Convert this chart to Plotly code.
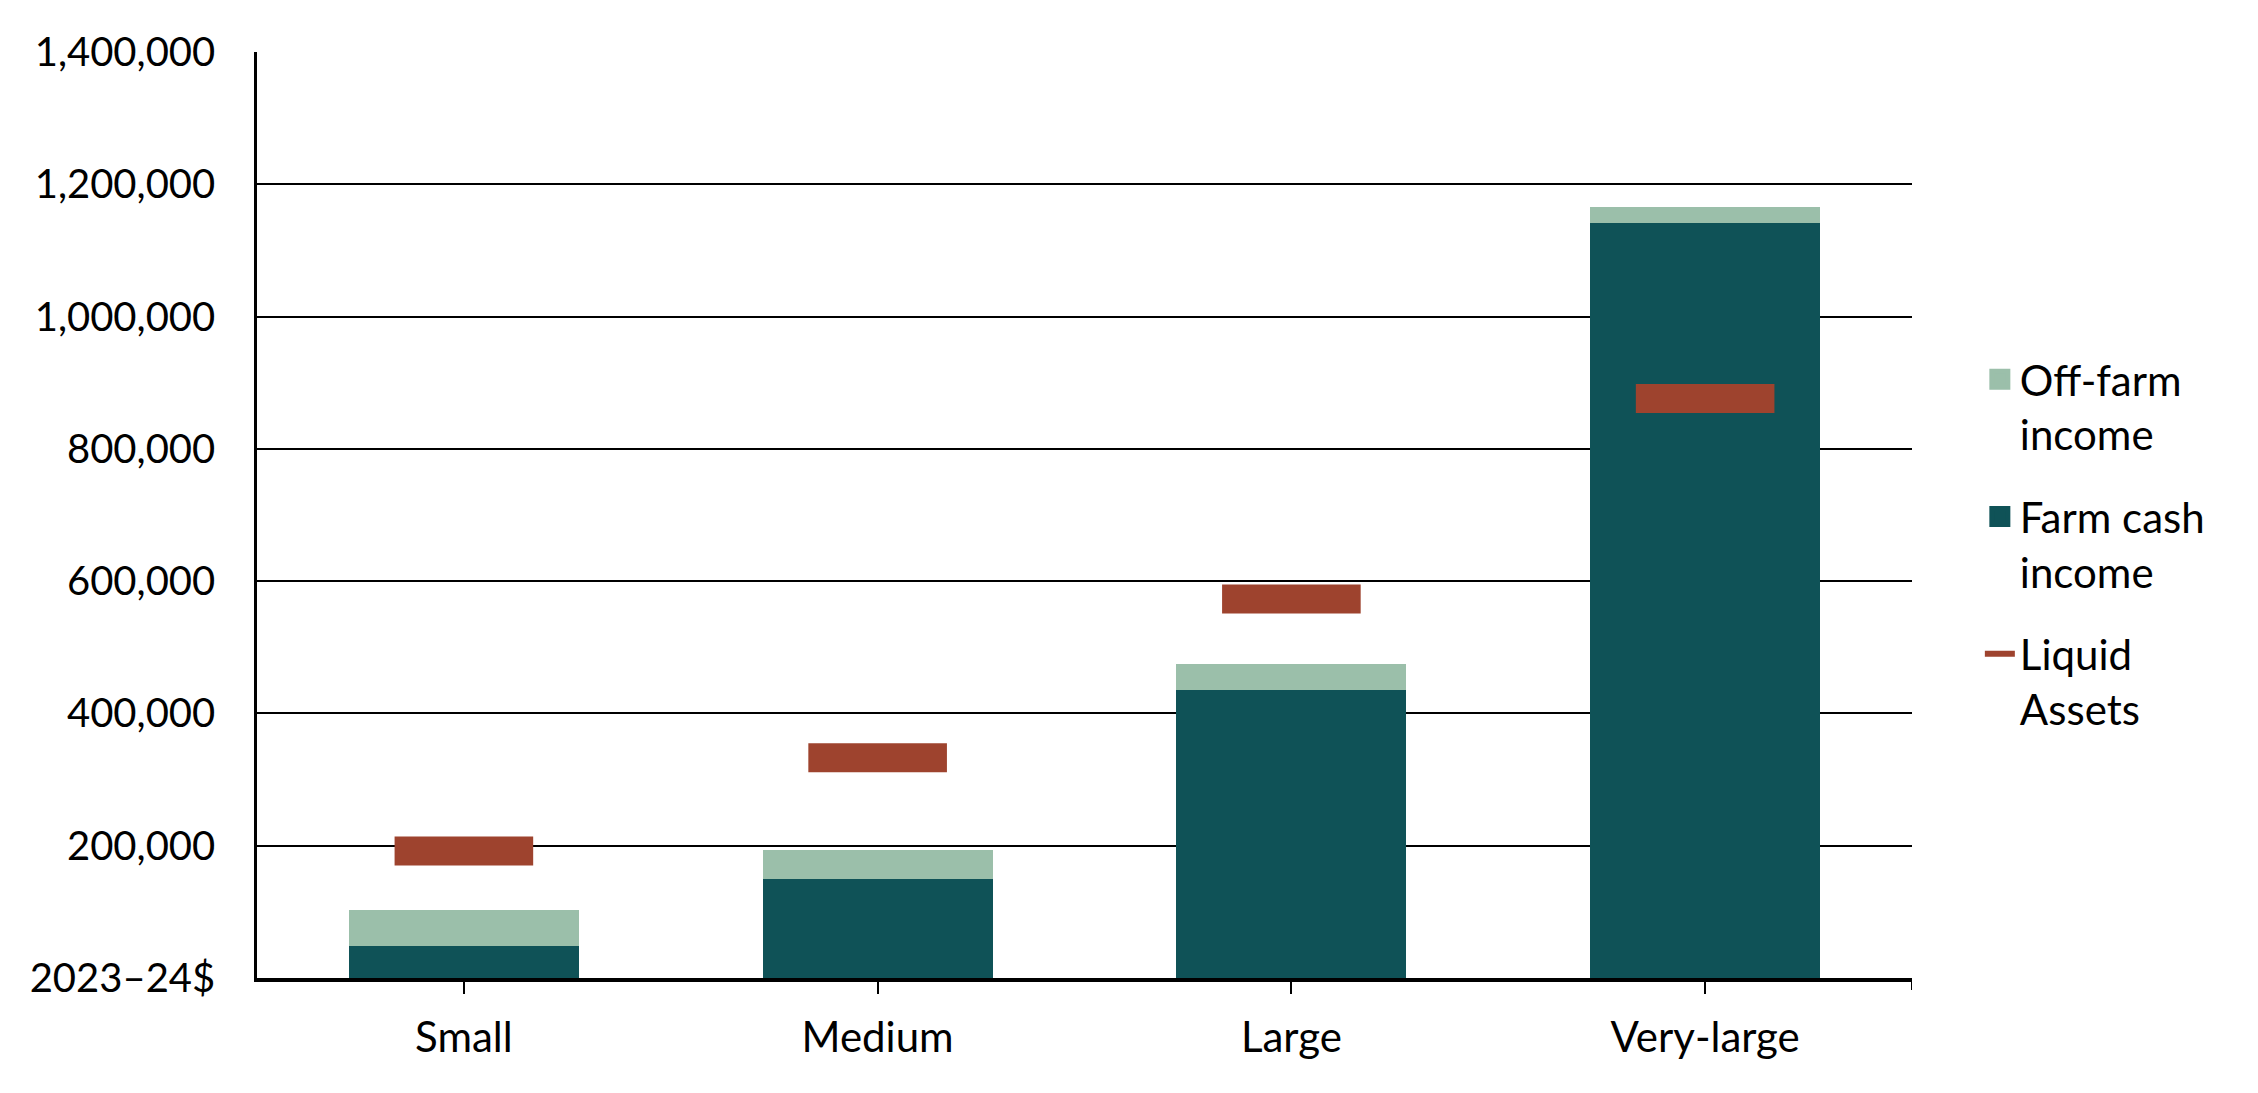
import plotly.graph_objects as go

categories = ["Small", "Medium", "Large", "Very-large"]
farm_cash_income = [48000, 150000, 435000, 1141000]
off_farm_income = [55000, 43500, 39500, 25000]
liquid_assets = [192000, 333000, 573000, 876000]

y_tickvals = [0, 200000, 400000, 600000, 800000, 1000000, 1200000, 1400000]
y_ticktext = ["2023–24$", "200,000", "400,000", "600,000", "800,000",
              "1,000,000", "1,200,000", "1,400,000"]

C_OFF = "#9BBFAA"
C_FARM = "#0F5257"
C_LIQ = "#9E432E"
FONT = "Lato"
FS = 40
FS2 = 42

fig = go.Figure()
fig.add_trace(go.Bar(x=categories, y=farm_cash_income, name="Farm cash<br>income",
                     marker=dict(color=C_FARM, line=dict(width=0)), showlegend=False))
fig.add_trace(go.Bar(x=categories, y=off_farm_income, name="Off-farm<br>income",
                     marker=dict(color=C_OFF, line=dict(width=0)), showlegend=False))
fig.add_trace(go.Scatter(x=categories, y=liquid_assets, mode="markers", name="Liquid<br>Assets",
                         marker=dict(symbol="line-ew", size=99, color=C_LIQ,
                                     line=dict(color=C_LIQ, width=29)),
                         showlegend=False))

# legend entries
fig.add_trace(go.Scatter(x=[None], y=[None], mode="markers", name="Off-farm<br>income",
                         marker=dict(symbol="square", size=16, color=C_OFF,
                                     line=dict(color=C_OFF, width=5)),
                         legendgroup="a", legendrank=1))
fig.add_trace(go.Scatter(x=[None], y=[None], mode="markers", name="Farm cash<br>income",
                         marker=dict(symbol="square", size=16, color=C_FARM,
                                     line=dict(color=C_FARM, width=5)),
                         legendgroup="b", legendrank=2))
fig.add_trace(go.Scatter(x=[None], y=[None], mode="lines", name="Liquid<br>Assets",
                         line=dict(color=C_LIQ, width=6),
                         legendgroup="c", legendrank=3))

fig.add_shape(type="line", xref="x", yref="paper", x0=3.5, x1=3.5, y0=0, y1=-0.013,
              line=dict(color="black", width=2))

fig.update_layout(
    width=2258, height=1093, autosize=False,
    margin=dict(l=257, r=346, t=52, b=115),
    paper_bgcolor="white", plot_bgcolor="white",
    barmode="stack", bargap=0.444,
    font=dict(family=FONT, size=FS, color="black"),
    legend=dict(x=1.041, xanchor="left", y=0.683, yanchor="top",
                traceorder="grouped", tracegroupgap=25, valign="top",
                font=dict(family=FONT, size=FS2, color="black"),
                bgcolor="rgba(0,0,0,0)"),
    xaxis=dict(type="category", range=[-0.5, 3.5], showline=True, linecolor="black",
               linewidth=3.5, ticks="outside", ticklen=12, tickwidth=2, tickcolor="black",
               ticklabelstandoff=8, showgrid=False, zeroline=False,
               tickfont=dict(family=FONT, size=FS2, color="black")),
    yaxis=dict(range=[0, 1400000], tickvals=y_tickvals, ticktext=y_ticktext,
               showline=True, linecolor="black", linewidth=2.5, ticks="",
               showgrid=True, gridcolor="black", gridwidth=1.5, zeroline=False,
               ticklabelstandoff=31,
               tickfont=dict(family=FONT, size=FS, color="black")),
)

fig.write_html("out.html")
